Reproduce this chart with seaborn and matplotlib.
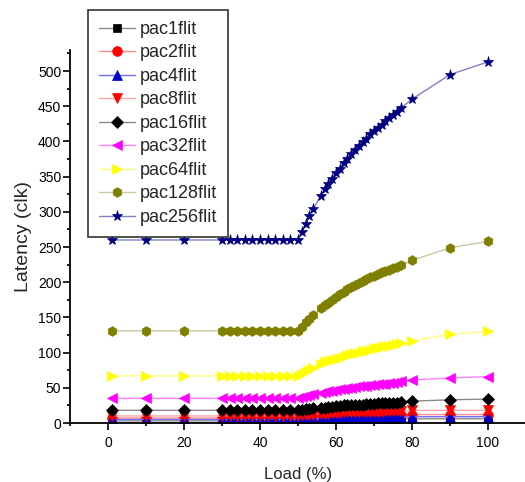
import numpy as np
import pandas as pd
import seaborn as sns
from matplotlib import pyplot as plt
from matplotlib.ticker import MultipleLocator

sns.set_style('ticks')
plt.rcParams['font.family'] = ['Liberation Sans', 'DejaVu Sans']

load = [1, 10, 20, 30, 32, 34, 36, 38, 40, 42, 44, 46, 48, 50,
        51, 52, 53, 54,
        56, 57, 58, 59, 60, 61, 62, 63, 64, 65, 66, 67, 68, 69, 70, 71, 72, 73, 74, 75, 76, 77,
        80, 90, 100]

pac1flit = [3, 3, 3, 3, 3, 3, 3, 3, 3, 3, 3, 3, 3, 3,
            3, 3, 4, 4,
            4, 4, 4, 4, 4, 4, 5, 5, 5, 5, 5, 5, 5, 5, 5, 5, 5, 5, 5, 6, 6, 6,
            6, 6, 6]
pac2flit = [7, 7, 7, 7, 7, 7, 7, 7, 7, 7, 7, 7, 7, 7,
            8, 8, 8, 9,
            9, 9, 9, 10, 10, 10, 10, 10, 10, 11, 11, 11, 11, 11, 11, 11, 11, 12, 12, 12, 12, 12,
            12, 12, 12]
pac4flit = [5, 5, 5, 5, 5, 5, 5, 5, 5, 5, 5, 5, 5, 5,
            5, 5, 6, 6,
            6, 6, 6, 6, 6, 6, 7, 7, 7, 7, 7, 7, 7, 7, 7, 7, 7, 7, 8, 8, 8, 8,
            9, 9, 9]
pac8flit = [10, 10, 10, 10, 10, 10, 10, 10, 10, 10, 10, 10, 10, 10,
            11, 11, 12, 12,
            13, 13, 13, 14, 14, 14, 15, 15, 15, 15, 15, 16, 16, 16, 16, 16, 16, 17, 17, 17, 17, 17,
            18, 18, 18]
pac16flit = [18, 18, 18, 18, 18, 18, 18, 18, 18, 18, 18, 18, 18, 18,
             19, 20, 20, 21,
             22, 22, 23, 23, 24, 24, 25, 25, 25, 26, 26, 26, 27, 27, 27, 28, 28, 28, 29, 29, 29, 30,
             31, 33, 34]
pac32flit = [35, 35, 35, 35, 35, 35, 35, 35, 35, 35, 35, 35, 35, 35,
             37, 38, 40, 41,
             43, 44, 45, 46, 47, 48, 49, 50, 50, 51, 52, 52, 53, 54, 54, 55, 56, 56, 57, 57, 58, 59,
             61, 64, 66]
pac64flit = [67, 67, 67, 67, 67, 67, 67, 67, 67, 67, 67, 67, 67, 67,
             70, 73, 76, 78,
             84, 86, 88, 90, 91, 93, 94, 96, 98, 99, 100, 102, 103, 104, 106, 107, 108, 109, 110, 111, 112, 114,
             117, 126, 130]
pac128flit = [131, 131, 131, 131, 131, 131, 131, 131, 131, 131, 131, 131, 131, 131,
              137, 143, 148, 153,
              163, 167, 171, 175, 179, 183, 186, 190, 193, 196, 199, 202, 205, 207, 209, 211, 214, 216, 218, 220, 222, 224,
              231, 249, 258]
pac256flit = [260, 260, 260, 260, 260, 260, 260, 260, 260, 260, 260, 260, 260, 260,
              271, 283, 294, 304,
              323, 332, 340, 347, 355, 361, 369, 375, 382, 388, 393, 399, 404, 410, 415, 419, 424, 429, 433, 437, 442, 447,
              460, 495, 513]

series = [('pac1flit', pac1flit, 's', 'black', '#8a8a8a', 6),
          ('pac2flit', pac2flit, 'o', 'red', '#ff8c8c', 7),
          ('pac4flit', pac4flit, '^', '#0000cc', '#7070ff', 7),
          ('pac8flit', pac8flit, 'v', 'red', '#ffa8a8', 7),
          ('pac16flit', pac16flit, 'D', 'black', '#8a8a8a', 6),
          ('pac32flit', pac32flit, '<', 'magenta', '#ff80ff', 7),
          ('pac64flit', pac64flit, '>', 'yellow', '#ffff80', 7),
          ('pac128flit', pac128flit, 'h', '#808000', '#c8c8a0', 7),
          ('pac256flit', pac256flit, '*', '#000080', '#8080c8', 8)]

fig = plt.figure(figsize=(5.25, 4.82), dpi=100)
ax = fig.add_axes([0.1333, 0.1224, 0.8686, 0.774])

for name, vals, mk, mcol, lcol, ms in series:
    df = pd.DataFrame({'Load': load, 'Latency': vals})
    sns.lineplot(x='Load', y='Latency', data=df, ax=ax, color=lcol, lw=1,
                 marker=mk, markersize=ms, markerfacecolor=mcol,
                 markeredgecolor=mcol, markeredgewidth=0.5, label=name,
                 legend=False)

ax.set_xlim(-10, 110)
ax.set_ylim(0, 530)
ax.xaxis.set_major_locator(MultipleLocator(20))
ax.xaxis.set_minor_locator(MultipleLocator(10))
ax.yaxis.set_major_locator(MultipleLocator(50))
ax.yaxis.set_minor_locator(MultipleLocator(25))
ax.tick_params(which='major', length=4.8, width=1.2, labelsize=10, direction='out', colors='black')
ax.tick_params(which='minor', length=2.4, width=1.2, direction='out', colors='black')
ax.tick_params(axis='x', which='major', pad=4.5)
ax.tick_params(axis='y', which='major', pad=1.5)
for s in ['left', 'bottom']:
    ax.spines[s].set_linewidth(1.3)
    ax.spines[s].set_color('black')
sns.despine(ax=ax)

ax.set_xlabel('Load (%)', size=12, labelpad=12)
ax.set_ylabel('Latency (clk)', size=14, labelpad=4)

handles, labels = ax.get_legend_handles_labels()
leg = ax.legend(handles, labels, loc='upper left', bbox_to_anchor=(0.1676, 0.979),
                bbox_transform=fig.transFigure, borderaxespad=0, fancybox=False,
                framealpha=1, edgecolor='#333333', fontsize=13, handlelength=2.0,
                handletextpad=0.25, labelspacing=0.36, borderpad=0.6)
leg.get_frame().set_linewidth(1.2)

plt.savefig('out.png', dpi=100)
